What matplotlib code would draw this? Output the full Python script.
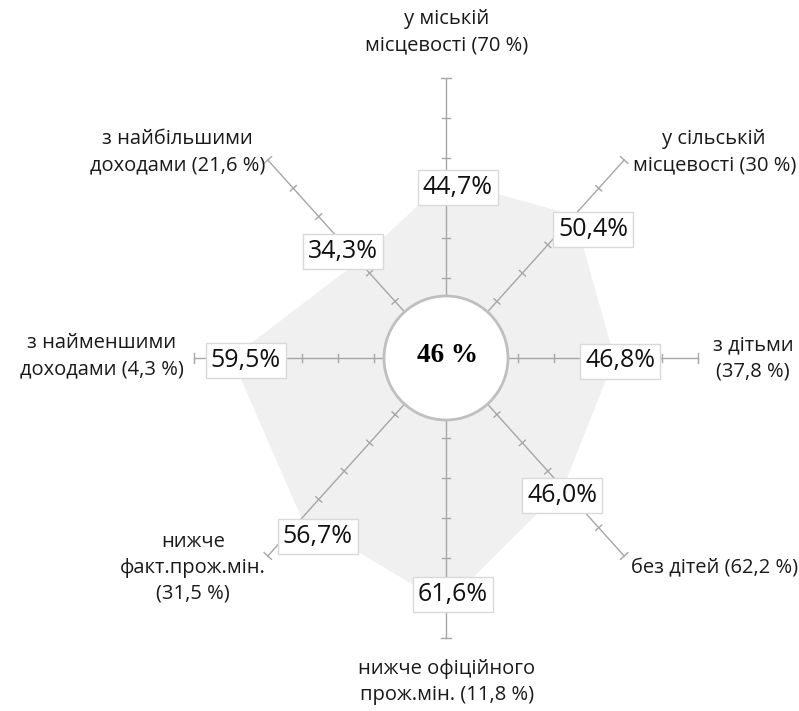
import numpy as np
import matplotlib.pyplot as plt
from matplotlib.patches import Ellipse, Polygon

# radar axes, clockwise from the top
categories = [
    "у міській\nмісцевості (70 %)",
    "у сільській\nмісцевості (30 %)",
    "з дітьми\n(37,8 %)",
    "без дітей (62,2 %)",
    "нижче офіційного\nпрож.мін. (11,8 %)",
    "нижче\nфакт.прож.мін.\n(31,5 %)",
    "з найменшими\nдоходами (4,3 %)",
    "з найбільшими\nдоходами (21,6 %)",
]
values = [44.7, 50.4, 46.8, 46.0, 61.6, 56.7, 59.5, 34.3]
value_labels = ["44,7%", "50,4%", "46,8%", "46,0%", "61,6%", "56,7%", "59,5%", "34,3%"]
total_label = "46 %"
axis_max = 70
tick_step = 10

# pixel offsets (x right, y down) of value boxes and category captions
value_offsets = [(12, 8), (19, 14), (6, 3), (-1, 7), (7, -10), (16, 18), (14, 2), (-16, -9)]
cat_offsets = [(1, -46), (90, -8), (55, 0), (90, 12), (1, 44), (-75, 12), (-92, -2), (-90, -8)]

W, H = 799, 711
cx, cy = 446, 358          # centre in pixels
sx, sy = 3.6, 4.0          # pixels per unit, horizontal / vertical

fig = plt.figure(figsize=(W / 100, H / 100), dpi=100)
ax = fig.add_axes([0, 0, 1, 1])
ax.set_xlim(-cx / sx, (W - cx) / sx)
ax.set_ylim((cy - H) / sy, cy / sy)
ax.axis("off")

angles = np.deg2rad(90 - 45 * np.arange(len(values)))
ux, uy = np.cos(angles), np.sin(angles)

axis_col = "#a6a6a6"

# filled area
pts = np.column_stack([np.array(values) * ux, np.array(values) * uy])
ax.add_patch(Polygon(pts, closed=True, fc="#f0f0f0", ec="none", zorder=1))

# spokes with small cross ticks
for i in range(len(values)):
    ax.plot([0, axis_max * ux[i]], [0, axis_max * uy[i]], color=axis_col, lw=1, zorder=2)
    # perpendicular direction in pixel space
    px, py = ux[i] * sx, uy[i] * sy
    n = np.hypot(px, py)
    perp = np.array([-py, px]) / n
    for t in range(tick_step, axis_max + 1, tick_step):
        half = 5 if t == axis_max else 4
        bx, by = t * ux[i], t * uy[i]
        dx, dy = perp[0] * half / sx, perp[1] * half / sy
        ax.plot([bx - dx, bx + dx], [by - dy, by + dy], color=axis_col, lw=1, zorder=2)

# centre circle
r = 62
ax.add_patch(Ellipse((0, 0), 2 * r / sx, 2 * r / sy, fc="white", ec="#bfbfbf", lw=2, zorder=3))
ax.text(0.3, 0.6, total_label, ha="center", va="center", fontsize=19.5, fontweight="bold",
        family="Liberation Serif", zorder=4)

# value boxes
for i, (v, lab) in enumerate(zip(values, value_labels)):
    ox, oy = value_offsets[i]
    ax.annotate(lab, (v * ux[i], v * uy[i]), xytext=(ox * 0.72, -oy * 0.72),
                textcoords="offset points", ha="center", va="center",
                fontsize=18, family="Open Sans", color="#111111", zorder=5,
                bbox=dict(boxstyle="square,pad=0.2", fc="white", ec="#d9d9d9", lw=1))

# category captions
for i, cat in enumerate(categories):
    ox, oy = cat_offsets[i]
    ax.annotate(cat, (axis_max * ux[i], axis_max * uy[i]), xytext=(ox * 0.72, -oy * 0.72),
                textcoords="offset points", ha="center", va="center",
                fontsize=14.5, family="Open Sans", color="#1a1a1a",
                linespacing=1.4, annotation_clip=False, zorder=5)

fig.savefig("out.png", dpi=100)
